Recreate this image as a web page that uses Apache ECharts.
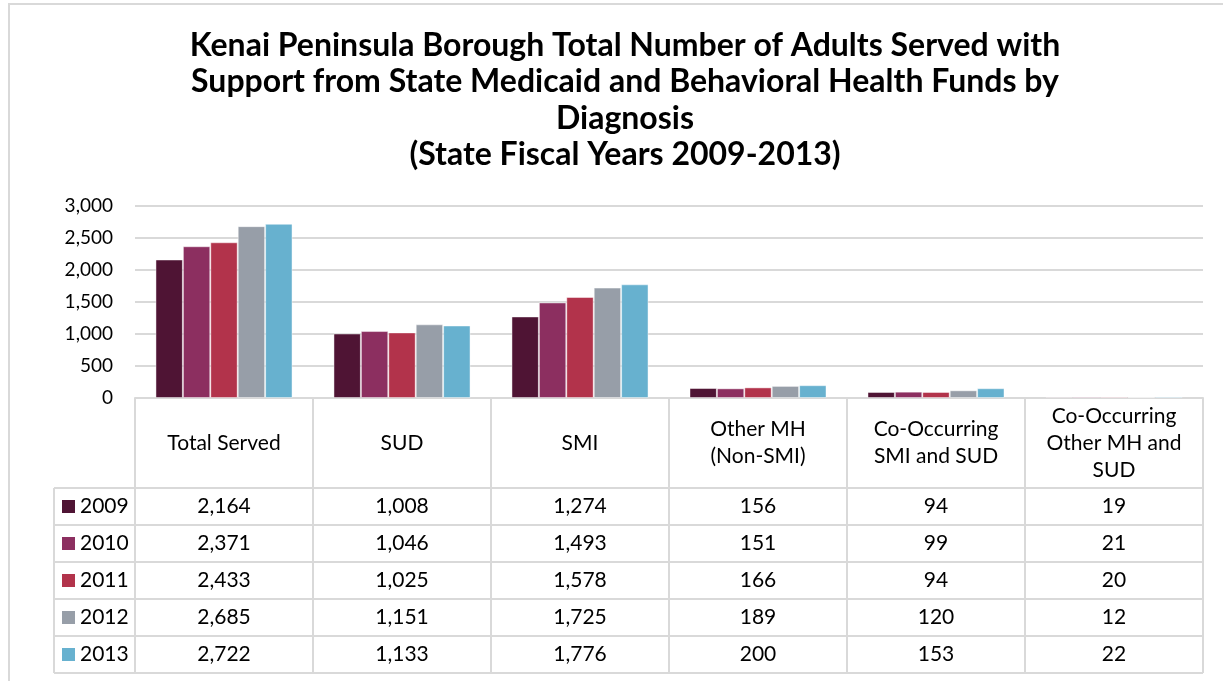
<!DOCTYPE html>
<html>
<head>
<meta charset="utf-8">
<script src="https://cdn.jsdelivr.net/npm/echarts@6/dist/echarts.min.js"></script>
<style>
  html, body { margin: 0; padding: 0; background: #fff; }
  #main { width: 1223px; height: 681px; }
</style>
</head>
<body>
<div id="main"></div>
<script>
// data
const categories = ['Total Served', 'SUD', 'SMI', 'Other MH\n(Non-SMI)', 'Co-Occurring\nSMI and SUD', 'Co-Occurring\nOther MH and\nSUD'];
const years = ['2009', '2010', '2011', '2012', '2013'];
const v2009 = [2164, 1008, 1274, 156, 94, 19];
const v2010 = [2371, 1046, 1493, 151, 99, 21];
const v2011 = [2433, 1025, 1578, 166, 94, 20];
const v2012 = [2685, 1151, 1725, 189, 120, 12];
const v2013 = [2722, 1133, 1776, 200, 153, 22];
const seriesData = [v2009, v2010, v2011, v2012, v2013];
const colors = ['#4f1434', '#8c2f60', '#b2334b', '#979ea8', '#67b1cf'];

const FONT = 'Lato';
const lineColor = '#d9d9d9';

const fmt = function (n) { return n.toLocaleString('en-US'); };

let myChart = echarts.init(document.getElementById('main'));

let option = {
  animation: false,
  textStyle: { fontFamily: FONT },
  title: {
    text: 'Kenai Peninsula Borough Total Number of Adults Served with\nSupport from State Medicaid and Behavioral Health Funds by\nDiagnosis\n(State Fiscal Years 2009-2013)',
    left: 620,
    top: 22,
    textAlign: 'center',
    textStyle: {
      fontFamily: FONT,
      fontSize: 32,
      fontWeight: 'bold',
      lineHeight: 36.5,
      color: '#000'
    }
  },
  grid: { left: 135, right: 20, top: 206, bottom: 283 },
  xAxis: {
    type: 'category',
    data: categories,
    axisLine: { lineStyle: { color: lineColor, width: 2 } },
    axisTick: { show: false },
    axisLabel: { show: false }
  },
  yAxis: {
    type: 'value',
    min: 0,
    max: 3000,
    interval: 500,
    axisLine: { show: false },
    axisTick: { show: false },
    splitLine: { lineStyle: { color: lineColor, width: 2 } },
    axisLabel: {
      fontFamily: FONT,
      fontSize: 19,
      color: '#000',
      margin: 22,
      formatter: function (v) { return fmt(v); }
    }
  },
  series: years.map(function (y, i) {
    return {
      name: y,
      type: 'bar',
      data: seriesData[i],
      barGap: '0%',
      barCategoryGap: '23%',
      z: 5,
      itemStyle: { color: colors[i], borderColor: 'rgba(255,255,255,0.45)', borderWidth: 1 }
    };
  })
};
myChart.setOption(option);

// data table below the axis, placed from the category axis
function drawTable() {
  const c0 = myChart.convertToPixel({ xAxisIndex: 0 }, 0);
  const c1 = myChart.convertToPixel({ xAxisIndex: 0 }, 1);
  const band = c1 - c0;
  const left = c0 - band / 2;
  const right = left + band * categories.length;
  const top = myChart.convertToPixel({ yAxisIndex: 0 }, 0);
  const headH = 90;
  const rowH = 37;
  const legLeft = 54;
  const bottom = top + headH + rowH * years.length;
  const g = [];
  const line = function (x1, y1, x2, y2) {
    g.push({ type: 'line', shape: { x1: x1, y1: y1, x2: x2, y2: y2 }, style: { stroke: lineColor, lineWidth: 2 }, silent: true });
  };
  // outer chart frame
  g.push({ type: 'rect', shape: { x: 9, y: 4, width: 1260, height: 720 }, style: { fill: 'none', stroke: lineColor, lineWidth: 2 }, silent: true, z: -1 });
  // column lines
  for (let k = 0; k <= categories.length; k++) {
    line(left + band * k, top, left + band * k, bottom);
  }
  line(legLeft, top + headH, legLeft, bottom);
  for (let r = 0; r <= years.length; r++) {
    line(legLeft, top + headH + rowH * r, right, top + headH + rowH * r);
  }
  // header
  categories.forEach(function (c, k) {
    g.push({
      type: 'text', silent: true,
      x: left + band * (k + 0.5), y: top + headH / 2,
      style: { text: c, font: '21px ' + FONT, fill: '#000', align: 'center', verticalAlign: 'middle', lineHeight: 27 }
    });
  });
  // rows
  years.forEach(function (y, r) {
    const cy = top + headH + rowH * (r + 0.5);
    g.push({ type: 'rect', silent: true, shape: { x: 62, y: cy - 6.5, width: 13, height: 13 }, style: { fill: colors[r] } });
    g.push({
      type: 'text', silent: true, x: 80, y: cy,
      style: { text: y, font: '21px ' + FONT, fill: '#000', align: 'left', verticalAlign: 'middle' }
    });
    seriesData[r].forEach(function (v, k) {
      g.push({
        type: 'text', silent: true,
        x: left + band * (k + 0.5), y: cy,
        style: { text: fmt(v), font: '21px ' + FONT, fill: '#000', align: 'center', verticalAlign: 'middle' }
      });
    });
  });
  myChart.setOption({ graphic: g });
}
drawTable();
</script>
</body>
</html>
